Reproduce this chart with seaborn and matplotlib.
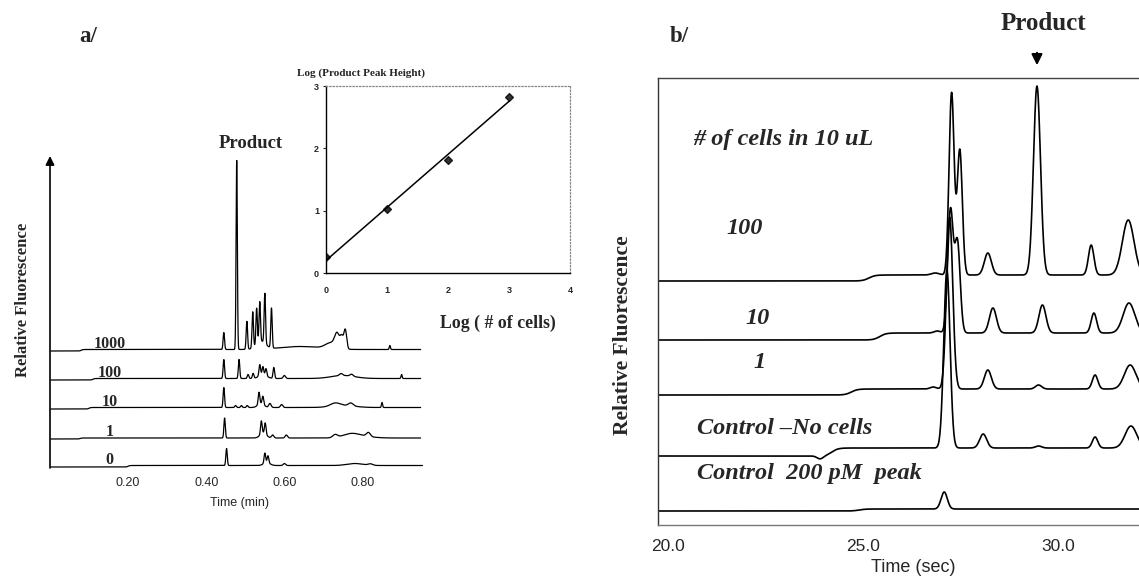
import numpy as np
import pandas as pd
import matplotlib
matplotlib.use("Agg")
import matplotlib.pyplot as plt
import seaborn as sns

# ---------------------------------------------------------------- data
# Panel a: electropherograms, time in minutes, signal in relative units
a_labels = ["1000", "100", "10", "1", "0"]
a_offsets = [116, 87, 58, 28, 0]
a_steps = [(0.08, 1.5), (0.11, 1.5), (0.10, 1.5), (0.077, 1.0), (0.20, 1.5)]
a_ends = [0.949, 0.949, 0.949, 0.949, 0.954]
# peak tables: (retention time, height, width)
a_peaks_1000 = [(0.445, 17, 0.0018), (0.478, 189, 0.0016), (0.504, 28, 0.0018),
                (0.519, 36, 0.0018), (0.529, 36, 0.0018), (0.537, 40, 0.0018),
                (0.550, 50, 0.0018), (0.567, 40, 0.0018), (0.540, 8, 0.012),
                (0.640, 3, 0.05), (0.720, 6, 0.015), (0.735, 13, 0.006),
                (0.747, 11, 0.004), (0.756, 19, 0.0035), (0.870, 4, 0.0015)]
a_peaks_100 = [(0.445, 19, 0.0018), (0.484, 19, 0.0018), (0.507, 4, 0.002),
               (0.520, 5, 0.002), (0.537, 11, 0.002), (0.545, 8, 0.002),
               (0.553, 7, 0.002), (0.573, 11, 0.002), (0.545, 4, 0.01),
               (0.600, 3, 0.003), (0.750, 3, 0.03), (0.745, 2, 0.004),
               (0.772, 2, 0.004), (0.900, 4, 0.0015)]
a_peaks_10 = [(0.445, 20, 0.0018), (0.475, 2, 0.002), (0.490, 2, 0.002),
              (0.505, 2, 0.002), (0.535, 12, 0.002), (0.545, 8, 0.002),
              (0.540, 4, 0.008), (0.563, 4, 0.003), (0.593, 3, 0.003),
              (0.730, 3, 0.012), (0.770, 3, 0.006), (0.750, 2, 0.03),
              (0.850, 5, 0.0015)]
a_peaks_1 = [(0.447, 20, 0.0018), (0.541, 13, 0.002), (0.551, 11, 0.002),
             (0.546, 5, 0.008), (0.570, 3, 0.003), (0.605, 3, 0.003),
             (0.730, 3, 0.006), (0.770, 3, 0.02), (0.815, 4, 0.005),
             (0.790, 2, 0.03)]
a_peaks_0 = [(0.452, 17, 0.0018), (0.550, 10, 0.002), (0.558, 7, 0.002),
             (0.555, 3, 0.008), (0.600, 2, 0.003), (0.780, 2, 0.02),
             (0.820, 1.5, 0.006)]
a_peaks = [a_peaks_1000, a_peaks_100, a_peaks_10, a_peaks_1, a_peaks_0]
a_ticks = [0.20, 0.40, 0.60, 0.80]
a_ticklabels = ["0.20", "0.40", "0.60", "0.80"]

# Inset: calibration
log_cells = [0, 1, 2, 3]
log_peak = [0.25, 1.02, 1.82, 2.82]

# Panel b: electropherograms, time in seconds
b_labels = ["100", "10", "1", "Control \u2013No cells", "Control  200 pM  peak"]
b_base_before = [244, 185, 130, 69, 14]
b_base_after = [250, 192, 136, 77, 16]
b_step_t = [25.15, 25.43, 24.70, 24.20, 24.90]
b_peaks_100 = [(26.85, 2, 0.1), (27.27, 182, 0.065), (27.48, 125, 0.065),
               (28.20, 22, 0.09), (29.46, 189, 0.09), (30.85, 30, 0.07),
               (31.80, 55, 0.15)]
b_peaks_10 = [(26.90, 2, 0.08), (27.24, 122, 0.07), (27.42, 90, 0.07),
              (28.33, 25, 0.09), (29.60, 28, 0.09), (30.92, 20, 0.07),
              (31.82, 30, 0.15)]
b_peaks_1 = [(26.80, 2, 0.08), (27.22, 172, 0.08), (28.20, 19, 0.09),
             (29.50, 4, 0.08), (30.95, 14, 0.07), (31.85, 24, 0.15)]
b_peaks_ctrl = [(23.90, -3, 0.08), (27.15, 178, 0.08), (28.08, 14, 0.09),
                (29.50, 2, 0.08), (30.95, 11, 0.07), (31.87, 22, 0.15)]
b_peaks_std = [(27.08, 17, 0.08)]
b_peaks = [b_peaks_100, b_peaks_10, b_peaks_1, b_peaks_ctrl, b_peaks_std]
b_ticks = [20.0, 25.0, 30.0]
b_ticklabels = ["20.0", "25.0", "30.0"]


def build_trace(t, base0, base1, t_step, step_w, peaks):
    y = base0 + (base1 - base0) / (1.0 + np.exp(-(t - t_step) / step_w))
    for c, h, s in peaks:
        y = y + h * np.exp(-0.5 * ((t - c) / s) ** 2)
    return y


# ---------------------------------------------------------------- layout
W, H = 1139, 581
sns.set_theme(style="white")
plt.rcParams["font.family"] = ["Liberation Serif", "DejaVu Serif"]
SERIF = ["Liberation Serif", "DejaVu Serif"]
SANS = ["Liberation Sans", "DejaVu Sans"]

fig = plt.figure(figsize=(W / 100, H / 100), dpi=100)
fig.patch.set_facecolor("white")


def box(l, t, r, b):
    return [l / W, 1 - b / H, (r - l) / W, (b - t) / H]


def ftext(x, y, s, **kw):
    fig.text(x / W, 1 - y / H, s, **kw)


# ---------------------------------------------------------------- panel a
ax_a = fig.add_axes(box(50, 156, 425, 470))
for lab, off, (ts, rise), t_end, pk in zip(a_labels, a_offsets, a_steps, a_ends, a_peaks):
    t = np.arange(0.002, t_end, 0.0004)
    y = build_trace(t, off, off + rise, ts, 0.002, pk)
    sns.lineplot(x=t, y=y, ax=ax_a, color="black", lw=0.9, sort=False, estimator=None)
    ax_a.text(0.152, off + 3, lab, ha="center", va="baseline",
              fontsize=11.5, fontweight="bold", family=SERIF)
ax_a.set_xlim(0, 0.96)
ax_a.set_ylim(-3, 311)
for sp in ax_a.spines.values():
    sp.set_visible(False)
ax_a.set_yticks([])
ax_a.set_xticks(a_ticks)
ax_a.set_xticklabels(a_ticklabels, family=SANS, fontsize=9)
ax_a.tick_params(axis="x", length=0, pad=5)
ax_a.set_xlabel("")
ax_a.set_ylabel("")
ax_a.annotate("", xy=(0.0, 311), xytext=(0.0, -1), xycoords="data",
              arrowprops=dict(arrowstyle="-|>", lw=1.2, color="black",
                              mutation_scale=13, shrinkA=0, shrinkB=0),
              annotation_clip=False)

ftext(88, 37, "a/", fontsize=16.5, fontweight="bold", family=SERIF, ha="center", va="center")
ftext(251, 144, "Product", fontsize=13.5, fontweight="bold", family=SERIF, ha="center", va="center")
ftext(23, 300, "Relative Fluorescence", fontsize=12, fontweight="bold", family=SERIF,
      rotation=90, ha="center", va="center")
ftext(239, 503, "Time (min)", fontsize=9, family=SANS, ha="center", va="center")

# ---------------------------------------------------------------- inset
ax_i = fig.add_axes(box(326, 86, 570, 273))
sns.regplot(x=log_cells, y=log_peak, ax=ax_i, ci=None, color="black", marker="D",
            scatter_kws={"s": 16}, line_kws={"lw": 1.1})
ax_i.set_xlim(0, 4)
ax_i.set_ylim(0, 3)
ax_i.set_xticks([0, 1, 2, 3, 4])
ax_i.set_yticks([0, 1, 2, 3])
ax_i.set_xticklabels(["0", "1", "2", "3", "4"], family=SANS, fontsize=6.5, fontweight="bold")
ax_i.set_yticklabels(["0", "1", "2", "3"], family=SANS, fontsize=6.5, fontweight="bold")
ax_i.tick_params(axis="x", length=0, pad=9)
ax_i.tick_params(axis="y", length=2, width=0.8, direction="out", pad=3, left=True)
ax_i.set_xlabel("")
ax_i.set_ylabel("")
for side in ["left", "bottom"]:
    ax_i.spines[side].set_color("black")
    ax_i.spines[side].set_linewidth(1.0)
for side in ["top", "right"]:
    ax_i.spines[side].set_color("#888888")
    ax_i.spines[side].set_linestyle(":")
    ax_i.spines[side].set_linewidth(0.9)
ax_i.patch.set_alpha(0)
ftext(361, 73, "Log (Product Peak Height)", fontsize=8, fontweight="bold", family=SERIF,
      ha="center", va="center")
ftext(498, 323, "Log ( # of cells)", fontsize=12.8, fontweight="bold", family=SERIF,
      ha="center", va="center")

# ---------------------------------------------------------------- panel b
ax_b = fig.add_axes(box(658, 78, 1175, 525))
t_b = np.arange(19.76, 33.0, 0.01)
for lab, b0, b1, ts, pk in zip(b_labels, b_base_before, b_base_after, b_step_t, b_peaks):
    y = build_trace(t_b, b0, b1, ts, 0.08, pk)
    sns.lineplot(x=t_b, y=y, ax=ax_b, color="black", lw=1.2, sort=False, estimator=None)
ax_b.set_xlim(19.74, 33.0)
ax_b.set_ylim(0, 447)
ax_b.set_yticks([])
ax_b.set_xticks(b_ticks)
ax_b.set_xticklabels(b_ticklabels, family=SANS, fontsize=12.5)
ax_b.tick_params(axis="x", length=0, pad=10)
ax_b.set_xlabel("")
ax_b.set_ylabel("")
ax_b.spines["left"].set_color("#333333")
ax_b.spines["left"].set_linewidth(1.0)
ax_b.spines["top"].set_color("#444444")
ax_b.spines["top"].set_linewidth(1.0)
ax_b.spines["bottom"].set_color("#777777")
ax_b.spines["bottom"].set_linewidth(1.0)
ax_b.spines["right"].set_visible(False)

b_text_pos = [(726, 228), (745, 318), (753, 363), (697, 428), (697, 473)]
for lab, (x, y) in zip(b_labels, b_text_pos):
    ftext(x, y, lab, fontsize=17.5, fontweight="bold", style="italic", family=SERIF,
          ha="left", va="center")
ftext(693, 140, "# of cells in 10 uL", fontsize=17.5, fontweight="bold", style="italic",
      family=SERIF, ha="left", va="center")

ftext(679, 37, "b/", fontsize=16.5, fontweight="bold", family=SERIF, ha="center", va="center")
ftext(1043, 24, "Product", fontsize=18, fontweight="bold", family=SERIF, ha="center", va="center")
fig.add_artist(matplotlib.patches.FancyArrowPatch(
    (1037 / W, 1 - 50 / H), (1037 / W, 1 - 68 / H), transform=fig.transFigure,
    arrowstyle="-|>", mutation_scale=16, lw=1.5, color="black"))
ftext(623, 335, "Relative Fluorescence", fontsize=15.5, fontweight="bold", family=SERIF,
      rotation=90, ha="center", va="center")
ftext(913, 567, "Time (sec)", fontsize=13, family=SANS, ha="center", va="center")

fig.savefig("out.png", dpi=100, facecolor="white")
